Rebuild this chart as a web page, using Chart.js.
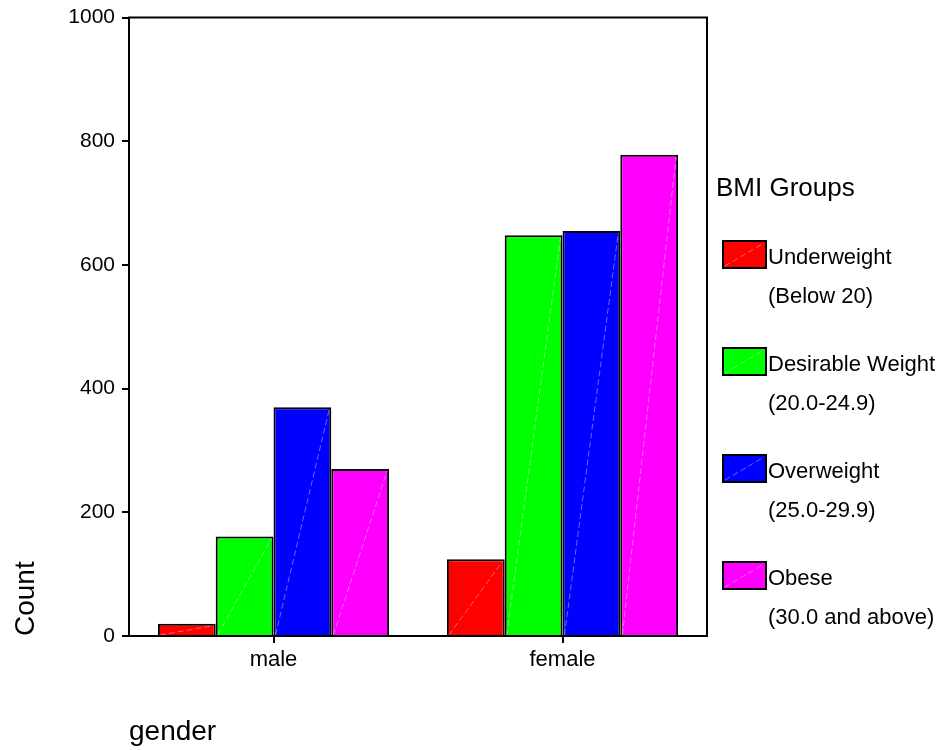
<!DOCTYPE html>
<html>
<head>
<meta charset="utf-8">
<script src="https://cdn.jsdelivr.net/npm/chart.js@4/dist/chart.umd.min.js"></script>
<style>
  body { margin: 0; background: #fff; }
  #wrap { width: 947px; height: 750px; }
</style>
</head>
<body>
<div id="wrap"><canvas id="myChart" width="947" height="750"></canvas></div>
<script>
var genders = ["male", "female"];
var seriesNames = ["Underweight", "Desirable Weight", "Overweight", "Obese"];
var seriesRanges = ["(Below 20)", "(20.0-24.9)", "(25.0-29.9)", "(30.0 and above)"];
var underweight = [20, 124];
var desirable = [161, 648];
var overweight = [370, 655];
var obese = [270, 778];
var yTicks = [0, 200, 400, 600, 800, 1000];
var legendTitle = "BMI Groups";

var colors = ["#ff0000", "#00ff00", "#0000ff", "#ff00ff"];
var values = [underweight, desirable, overweight, obese];
var fontFamily = '"Liberation Sans", Arial, sans-serif';

// faint diagonal streak inside each bar, like the original export
var streaks = {
  id: 'streaks',
  afterDatasetsDraw: function(chart) {
    var ctx = chart.ctx;
    ctx.save();
    ctx.strokeStyle = "rgba(255,255,255,0.4)";
    ctx.lineWidth = 1;
    ctx.setLineDash([6, 3]);
    chart.data.datasets.forEach(function(ds, i) {
      chart.getDatasetMeta(i).data.forEach(function(bar) {
        var p = bar.getProps(['x', 'y', 'base', 'width'], true);
        ctx.beginPath();
        ctx.moveTo(p.x - p.width / 2 + 2, p.base);
        ctx.lineTo(p.x + p.width / 2 - 2, p.y + 2);
        ctx.stroke();
      });
    });
    ctx.restore();
  }
};

// box around the plot
var frame = {
  id: 'frame',
  afterDraw: function(chart) {
    var a = chart.chartArea, ctx = chart.ctx;
    ctx.save();
    ctx.strokeStyle = "#000";
    ctx.lineWidth = 2;
    ctx.strokeRect(a.left, a.top, a.right - a.left, a.bottom - a.top);
    ctx.restore();
  }
};

// legend on the right, two lines per entry
var sideLegend = {
  id: 'sideLegend',
  afterDraw: function(chart) {
    var ctx = chart.ctx;
    var x0 = chart.chartArea.right;
    var y0 = 15;
    ctx.save();
    ctx.fillStyle = "#000";
    ctx.textBaseline = "middle";
    ctx.textAlign = "left";
    ctx.font = "26px " + fontFamily;
    ctx.fillText(legendTitle, x0 + 9, y0 + 174);
    ctx.font = "22px " + fontFamily;
    chart.data.datasets.forEach(function(ds, i) {
      var top = y0 + 226 + i * 107;
      var sx = x0 + 16;
      ctx.fillStyle = ds.backgroundColor;
      ctx.fillRect(sx, top, 43, 27);
      ctx.strokeStyle = "rgba(255,255,255,0.4)";
      ctx.lineWidth = 1;
      ctx.setLineDash([6, 3]);
      ctx.beginPath();
      ctx.moveTo(sx + 2, top + 25);
      ctx.lineTo(sx + 41, top + 2);
      ctx.stroke();
      ctx.setLineDash([]);
      ctx.strokeStyle = "#000";
      ctx.lineWidth = 2;
      ctx.strokeRect(sx, top, 43, 27);
      ctx.fillStyle = "#000";
      ctx.fillText(ds.label, sx + 45, top + 17);
      ctx.fillText(seriesRanges[i], sx + 45, top + 56);
    });
    ctx.restore();
  }
};

var datasets = [];
for (var i = 0; i < seriesNames.length; i++) {
  datasets.push({
    label: seriesNames[i],
    data: values[i],
    backgroundColor: colors[i],
    borderColor: "#000",
    borderWidth: 2,
    categoryPercentage: 0.8,
    barPercentage: 1.0
  });
}

var ctx = document.getElementById('myChart').getContext('2d');
var myChart = new Chart(ctx, {
  type: 'bar',
  data: { labels: genders, datasets: datasets },
  plugins: [streaks, frame, sideLegend],
  options: {
    responsive: false,
    animation: false,
    layout: { padding: { top: 15, right: 240, bottom: 0, left: 0 } },
    plugins: {
      legend: { display: false },
      tooltip: { enabled: false }
    },
    scales: {
      x: {
        grid: { offset: false, drawOnChartArea: false, color: "#000", lineWidth: 2, tickLength: 7 },
        border: { display: true, color: "#000", width: 2 },
        ticks: { color: "#000", font: { family: fontFamily, size: 22 }, padding: 4 },
        title: {
          display: true, text: "gender", align: 'start', color: "#000",
          font: { family: fontFamily, size: 28 }, padding: { top: 0, bottom: 1 }
        },
        afterFit: function(scale) { scale.height = 114; }
      },
      y: {
        min: 0,
        max: 1000,
        afterBuildTicks: function(scale) {
          scale.ticks = yTicks.map(function(v) { return { value: v }; });
        },
        grid: { drawOnChartArea: false, color: "#000", lineWidth: 2, tickLength: 7 },
        border: { display: true, color: "#000", width: 2 },
        ticks: {
          color: "#000", font: { family: fontFamily, size: 21, lineHeight: 1 }, padding: 7,
          callback: function(v) { return String(v); }
        },
        title: {
          display: true, text: "Count", align: 'start', color: "#000",
          font: { family: fontFamily, size: 28 }, padding: { top: 9, bottom: 0 }
        },
        afterFit: function(scale) { scale.width = 129; }
      }
    }
  }
});
</script>
</body>
</html>
